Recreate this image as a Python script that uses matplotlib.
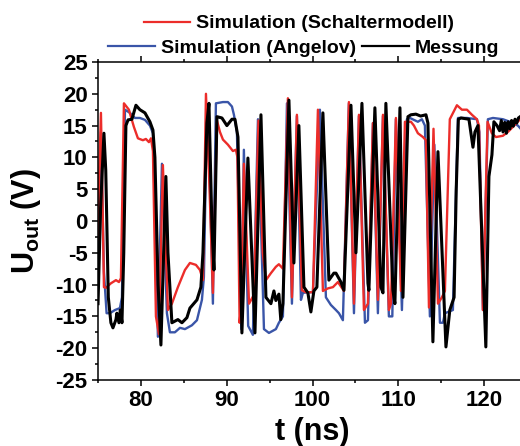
import matplotlib
matplotlib.use("Agg")
import matplotlib.pyplot as plt
from matplotlib.lines import Line2D
from matplotlib.ticker import MultipleLocator

plt.rcParams["font.family"] = ["Liberation Sans", "DejaVu Sans"]
plt.rcParams["font.weight"] = "bold"
plt.rcParams["axes.unicode_minus"] = False
plt.rcParams["mathtext.fontset"] = "custom"
plt.rcParams["mathtext.bf"] = "Liberation Sans:bold"
plt.rcParams["mathtext.rm"] = "Liberation Sans:bold"
plt.rcParams["mathtext.default"] = "bf"

# Simulation (Schaltermodell)
t_schalter = [75.0, 75.15, 75.34, 75.5, 75.69, 75.92, 76.5, 77.09, 77.44, 77.67,
              78.02, 78.6, 79.18, 79.65, 80.23, 80.58, 80.93, 81.17, 81.4, 81.75,
              82.1, 82.56, 83.15, 83.61, 84.31, 85.13, 85.71, 86.41, 86.88, 87.23,
              87.58, 88.0, 88.39, 88.86, 89.21, 89.56, 90.14, 90.72, 91.07, 91.25,
              91.5, 91.7, 92.0, 92.6, 93.17, 93.7, 94.2, 94.57, 95.15, 95.73,
              96.08, 96.55, 97.13, 97.6, 98.18, 98.76, 99.23, 100.05, 100.63, 101.21,
              101.79, 102.38, 102.96, 103.66, 104.24, 104.83, 105.41, 105.99, 106.46, 107.04,
              107.62, 108.21, 108.9, 109.14, 109.72, 110.3, 110.77, 111.47, 111.82, 112.28,
              112.87, 113.22, 113.57, 114.1, 114.62, 115.08, 115.43, 116.0, 116.83, 117.41,
              118.0, 118.58, 119.16, 119.4, 119.86, 120.4, 120.9, 121.38, 122.19, 122.77,
              123.36, 124.2]
u_schalter = [-3, 8, 17.0, 5, -10.4, -10.5, -9.8, -9.3, -9.6, -9.0,
              18.5, 17.5, 14.8, 13.0, 12.7, 12.9, 12.4, 13.0, 11.0, -15.0,
              -17.8, 8.8, -14.0, -13.0, -10.4, -7.7, -6.6, -6.9, -7.7, -9.3,
              20.0, 5.0, -11.3, 15.8, 14.0, 12.8, 12.0, 11.0, 11.2, 10.0,
              -16.0, -13.0, 9.0, -13.0, -11.6, 15.8, -5, -9.3, -8.2, -7.2,
              -6.8, -7.5, 19.3, -12.0, 16.7, -10.9, -11.2, -11.2, 17.5, -11.0,
              -10.6, -10.4, -9.6, -11.0, 18.7, -13.0, 16.7, -14.0, -13.0, 15.4,
              -12.4, 16.7, -14.0, -13.0, 16.2, -11.0, 15.6, 15.6, 15.0, 13.8,
              13.2, 12.7, -13.6, 14.5, -13.0, -12.0, -11.0, 16.0, 18.2, 17.5,
              17.5, 16.7, 16.0, 15.0, -14.0, 15.6, 13.8, 13.2, 13.4, 14.0,
              14.8, 16.0]

# Simulation (Angelov)
t_angelov = [75.0, 75.34, 75.69, 76.0, 76.39, 76.97, 77.55, 77.79, 78.14, 78.72,
             79.3, 79.88, 80.47, 81.05, 81.4, 81.98, 82.45, 83.03, 83.38, 83.96,
             84.55, 85.13, 85.94, 86.53, 87.11, 87.34, 87.69, 88.0, 88.39, 88.74,
             89.56, 90.14, 90.61, 90.84, 91.19, 91.7, 92.0, 92.5, 93.05, 93.64,
             94.34, 94.92, 95.73, 96.08, 96.55, 97.02, 97.6, 98.18, 98.65, 98.88,
             99.5, 100.05, 100.86, 101.56, 102.14, 102.73, 103.08, 103.54, 104.24, 104.83,
             105.41, 106.11, 106.46, 107.04, 107.62, 108.21, 108.9, 109.3, 109.72, 110.42,
             111.0, 111.35, 112.28, 112.75, 113.1, 113.68, 114.2, 114.85, 115.2, 115.43,
             116.36, 116.95, 118.0, 119.16, 119.45, 119.86, 120.44, 121.03, 122.19, 123.01,
             123.94, 124.2]
u_angelov = [-7, 14, -8, -14.5, -14.5, -14.0, -13.7, -12.0, 17.5, 17.0,
             16.2, 16.2, 15.9, 15.0, 13.8, -18.2, 9.0, -14.5, -17.5, -17.5,
             -16.8, -17.0, -16.4, -15.6, -12.4, -8.8, 17.0, 8, -13.0, 18.5,
             18.7, 18.7, 18.0, 16.7, 14.0, -17.0, 11.2, -16.5, -17.9, 16.0,
             -17.0, -17.6, -17.0, -16.0, -15.0, 18.5, -13.0, 16.5, -12.4, -11.3,
             -11.2, -11.2, 17.5, -12.0, -13.2, -14.0, -14.5, -15.6, 18.5, -14.5,
             16.5, -16.0, -15.6, 15.4, -14.5, 16.5, -15.0, -15.0, 16.0, -14.0,
             16.0, 16.2, 15.6, 16.0, 15.0, -15.0, 12.0, -16.0, -16.0, -14.5,
             -14.0, 16.2, 16.2, 16.0, 14.0, -14.0, 16.0, 16.2, 16.0, 15.6,
             15.0, 14.6]

# Messung
t_messung = [75.0, 75.3, 75.69, 75.9, 76.2, 76.5, 76.74, 77.09, 77.2, 77.44,
             77.6, 77.79, 78.0, 78.25, 78.5, 78.95, 79.42, 79.88, 80.47, 81.05,
             81.4, 81.63, 82.0, 82.33, 82.91, 83.15, 83.61, 84.31, 84.78, 85.36,
             85.71, 86.53, 86.99, 87.23, 87.69, 87.93, 88.28, 88.51, 88.86, 89.44,
             90.02, 90.61, 90.96, 91.31, 91.77, 92.47, 93.29, 93.99, 94.57, 95.15,
             95.5, 95.73, 96.08, 96.3, 96.55, 97.25, 97.83, 98.41, 99.0, 99.46,
             99.81, 100.16, 100.51, 101.21, 101.91, 102.49, 102.73, 103.31, 103.66, 104.48,
             105.06, 105.76, 106.46, 106.57, 107.27, 107.97, 108.21, 108.55, 109.37, 109.6,
             110.19, 110.54, 111.12, 111.47, 112.05, 112.6, 113.22, 113.45, 114.03, 114.62,
             115.55, 116.0, 116.5, 116.75, 117.0, 117.3, 118.23, 118.7, 118.93, 119.28,
             120.2, 120.56, 120.91, 121.14, 121.5, 121.8, 122.0, 122.2, 122.4, 122.6,
             122.8, 123.0, 123.2, 123.4, 123.6, 123.8, 124.0, 124.2]
u_messung = [-13.0, 2.0, 13.8, 8.0, -12.0, -16.0, -16.8, -15.5, -14.5, -16.0,
             -14.0, -16.0, -5.0, 15.0, 15.9, 16.0, 18.2, 17.5, 17.0, 15.6,
             14.3, 10.0, -10.0, -19.5, 7.0, -5.0, -16.0, -15.5, -16.0, -15.2,
             -13.7, -12.4, -10.4, -5.0, 15.4, 18.5, -1.0, -7.7, 16.4, 16.2,
             15.0, 16.0, 16.0, 13.2, -17.6, 9.9, -17.6, 16.7, -12.0, -13.0,
             -11.0, -12.5, -11.5, -15.5, -13.0, 19.0, -6.6, 15.0, -10.4, -11.3,
             -14.3, -11.0, -10.4, 17.0, -9.3, -8.2, -8.2, -9.6, -10.9, 18.2,
             -5.0, 18.5, -9.8, -10.9, 17.8, -10.4, -11.3, 18.5, -10.9, -13.0,
             17.8, -12.0, 16.4, 16.7, 16.8, 16.5, 16.7, 15.4, -19.0, 10.9,
             -19.8, -14.0, -12.0, 5.0, 16.0, 16.2, 16.0, 11.6, 14.0, 15.0,
             -19.8, 7.0, 10.4, 15.6, 15.0, 14.2, 15.8, 14.0, 15.5, 13.8,
             15.6, 14.5, 15.8, 14.9, 16.0, 15.4, 16.2, 16.4]

series_labels = ["Simulation (Schaltermodell)", "Simulation (Angelov)", "Messung"]
c_red, c_blue, c_black = "#ec2d2a", "#3a55a8", "#000000"

fig = plt.figure(figsize=(5.2, 4.46), dpi=100)
ax = fig.add_axes([0.1885, 0.148, 0.825, 0.713])

ax.plot(t_angelov, u_angelov, color=c_blue, lw=1.7, solid_joinstyle="round")
ax.plot(t_schalter, u_schalter, color=c_red, lw=1.7, solid_joinstyle="round")
ax.plot(t_messung, u_messung, color=c_black, lw=2.2, solid_joinstyle="round")

ax.set_xlim(75, 125)
ax.set_ylim(-25, 25)
ax.xaxis.set_major_locator(MultipleLocator(10))
ax.xaxis.set_minor_locator(MultipleLocator(5))
ax.yaxis.set_major_locator(MultipleLocator(5))
ax.yaxis.set_minor_locator(MultipleLocator(2.5))
ax.set_xticks([80, 90, 100, 110, 120])
ax.tick_params(which="both", direction="out", width=1.1, top=True, right=False,
               labelsize=16, pad=3)
ax.tick_params(which="major", length=4.5)
ax.tick_params(which="minor", length=2.5)
for lab in ax.get_xticklabels() + ax.get_yticklabels():
    lab.set_fontweight("bold")
for sp in ax.spines.values():
    sp.set_linewidth(1.1)

ax.set_xlabel("t (ns)", fontsize=22, fontweight="bold", labelpad=4)
ax.set_ylabel(r"U$_{out}$ (V)", fontsize=22, fontweight="bold", labelpad=9)

h_red = Line2D([], [], color=c_red, lw=1.6)
h_blue = Line2D([], [], color=c_blue, lw=1.6)
h_black = Line2D([], [], color=c_black, lw=1.6)
leg_font = {"size": 14, "weight": "bold"}
leg1 = fig.legend([h_red], [series_labels[0]], loc="center",
                  bbox_to_anchor=(0.575, 0.947), frameon=False, prop=leg_font,
                  handlelength=2.4, handletextpad=0.3, borderpad=0)
leg2 = fig.legend([h_blue, h_black], series_labels[1:], loc="center",
                  bbox_to_anchor=(0.584, 0.892), frameon=False, prop=leg_font,
                  ncol=2, handlelength=2.4, handletextpad=0.3, columnspacing=0.3,
                  borderpad=0)

fig.savefig("out.png", dpi=100)
